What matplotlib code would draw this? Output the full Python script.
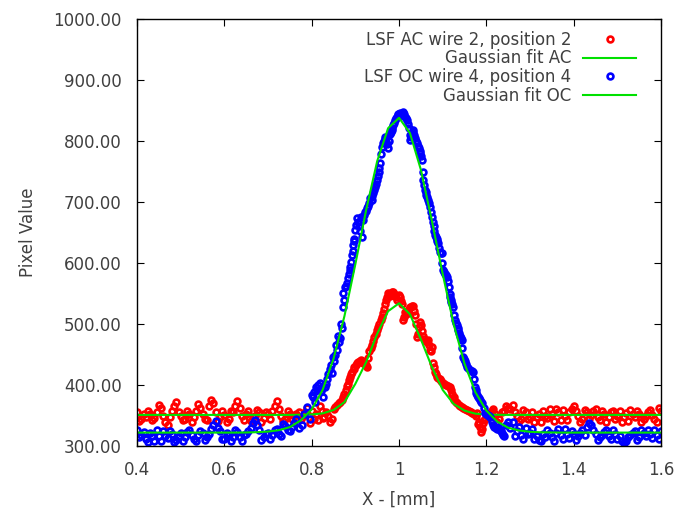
import numpy as np
import matplotlib.pyplot as plt

# LSF AC wire 2, position 2 (red points)
ac_x = [0.40, 0.41, 0.42, 0.43, 0.44, 0.45, 0.46, 0.47, 0.48, 0.49, 0.50, 0.51, 0.52, 0.53,
        0.54, 0.55, 0.56, 0.57, 0.58, 0.59, 0.60, 0.61, 0.62, 0.63, 0.64, 0.65, 0.66, 0.67,
        0.68, 0.69, 0.70, 0.71, 0.72, 0.73, 0.74, 0.75, 0.76, 0.77,
        0.78, 0.79, 0.796, 0.805, 0.81, 0.819, 0.826, 0.832, 0.842, 0.85, 0.858, 0.865,
        0.872, 0.878, 0.884, 0.888, 0.893, 0.898, 0.904, 0.91, 0.915, 0.921, 0.927, 0.932,
        0.937, 0.943, 0.95, 0.955, 0.961, 0.966, 0.971, 0.975, 0.98, 0.986, 0.991, 0.996,
        1.002, 1.006, 1.009, 1.014, 1.02, 1.026, 1.032, 1.036, 1.041, 1.045, 1.048, 1.053,
        1.058, 1.063, 1.066, 1.071, 1.075, 1.078, 1.083, 1.087, 1.093, 1.101, 1.108, 1.117,
        1.122, 1.127, 1.133, 1.14, 1.147, 1.156, 1.165, 1.172, 1.179, 1.183, 1.185, 1.187,
        1.192, 1.198, 1.204, 1.21, 1.215,
        1.22, 1.23, 1.24, 1.25, 1.26, 1.27, 1.28, 1.29, 1.30, 1.31, 1.32, 1.33, 1.34, 1.35,
        1.36, 1.37, 1.38, 1.39, 1.40, 1.41, 1.42, 1.43, 1.44, 1.45, 1.46, 1.47, 1.48, 1.49,
        1.50, 1.51, 1.52, 1.53, 1.54, 1.55, 1.56, 1.57, 1.58, 1.59, 1.60]
ac_y = [356, 344, 348, 352, 346, 367, 350, 334, 358, 372, 349, 344, 353, 347,
        369, 352, 343, 376, 355, 348, 351, 345, 356, 374, 349, 353, 341, 350,
        355, 346, 352, 357, 374, 350, 344, 353, 349, 356,
        350, 362, 338, 345, 352, 366, 346, 356, 339, 360, 368, 372,
        380, 392, 402, 413, 422, 430, 436, 440, 438, 434, 430, 455,
        466, 478, 490, 500, 512, 524, 540, 551, 546, 552, 548, 540,
        544, 532, 506, 520, 518, 528, 529, 515, 479, 495, 503, 488,
        476, 470, 474, 458, 462, 436, 422, 413, 410, 403, 400, 397,
        386, 375, 370, 366, 362, 359, 356, 352, 354, 340, 331, 323,
        338, 345, 348, 356, 360,
        352, 344, 358, 362, 367, 350, 345, 356, 348, 340, 353, 358, 346, 352,
        361, 343, 350, 356, 365, 349, 344, 355, 351, 360, 342, 352, 347, 357,
        350, 339, 354, 359, 348, 353, 344, 356, 351, 340, 358]

# more AC readings between the ones above, as (x, value)
ac_extra = [
    (0.405, 341), (0.415, 352), (0.425, 357), (0.435, 343), (0.445, 355), (0.455, 362),
    (0.465, 340), (0.475, 347), (0.485, 366), (0.495, 356), (0.505, 342), (0.515, 357),
    (0.525, 340), (0.535, 358), (0.545, 362), (0.555, 345), (0.565, 366), (0.575, 370),
    (0.585, 341), (0.595, 357), (0.605, 340), (0.615, 358), (0.625, 366), (0.635, 362),
    (0.645, 342), (0.655, 357), (0.665, 347), (0.675, 359), (0.685, 340), (0.695, 356),
    (0.705, 344), (0.715, 366), (0.725, 360), (0.735, 341), (0.745, 358), (0.755, 345),
    (0.765, 352), (0.775, 345), (0.785, 356), (0.800, 358), (0.815, 342), (0.823, 358),
    (0.829, 348), (0.837, 350), (0.846, 345), (0.854, 364), (0.862, 370), (0.869, 376),
    (0.875, 386), (0.881, 398), (0.886, 408), (0.891, 418), (0.896, 426), (0.901, 433),
    (0.907, 438), (0.913, 441), (0.918, 436), (0.924, 432), (0.930, 445), (0.935, 460),
    (0.940, 472), (0.947, 484), (0.952, 495), (0.958, 506), (0.963, 518), (0.968, 532),
    (0.973, 545), (0.978, 549), (0.983, 553), (0.988, 550), (0.994, 544), (0.999, 548),
    (1.004, 538), (1.011, 512), (1.017, 516), (1.023, 524), (1.029, 530), (1.034, 522),
    (1.039, 500), (1.043, 484), (1.050, 498), (1.056, 480), (1.061, 472), (1.068, 466),
    (1.073, 455), (1.080, 430), (1.085, 418), (1.090, 411), (1.097, 406), (1.104, 401),
    (1.112, 398), (1.119, 392), (1.125, 380), (1.130, 372), (1.137, 368), (1.144, 364),
    (1.151, 360), (1.160, 357), (1.168, 354), (1.176, 350), (1.181, 336), (1.189, 328),
    (1.195, 342), (1.201, 350), (1.207, 352), (1.212, 358), (1.218, 347),
    (1.225, 340), (1.235, 355), (1.245, 366), (1.255, 360), (1.265, 356), (1.275, 341),
    (1.285, 359), (1.295, 344), (1.305, 356), (1.315, 348), (1.325, 340), (1.335, 350),
    (1.345, 360), (1.355, 341), (1.365, 355), (1.375, 359), (1.385, 342), (1.395, 360),
    (1.405, 358), (1.415, 340), (1.425, 359), (1.435, 344), (1.445, 357), (1.455, 348),
    (1.465, 358), (1.475, 340), (1.485, 355), (1.495, 345), (1.505, 358), (1.515, 347),
    (1.525, 341), (1.535, 352), (1.545, 358), (1.555, 340), (1.565, 350), (1.575, 359),
    (1.585, 345), (1.595, 362)]

# LSF OC wire 4, position 4 (blue points)
oc_x = [0.40, 0.41, 0.42, 0.43, 0.44, 0.45, 0.46, 0.47, 0.48, 0.49, 0.50, 0.51, 0.52, 0.53,
        0.54, 0.55, 0.56, 0.57, 0.58, 0.59, 0.60, 0.61, 0.62, 0.63, 0.64, 0.65, 0.66, 0.67,
        0.68, 0.69, 0.70, 0.71, 0.72, 0.73, 0.74, 0.75, 0.76, 0.77,
        0.778, 0.783, 0.789, 0.795, 0.801, 0.804, 0.808, 0.811, 0.815, 0.819, 0.822, 0.826,
        0.83, 0.836, 0.841, 0.846, 0.849, 0.853, 0.857, 0.86, 0.865, 0.869, 0.871, 0.872,
        0.876, 0.881, 0.885, 0.888, 0.892, 0.895, 0.898, 0.9, 0.903, 0.908, 0.915, 0.918,
        0.922, 0.926, 0.931, 0.937, 0.941, 0.945, 0.949, 0.953, 0.957, 0.961, 0.965, 0.968,
        0.972, 0.975, 0.979, 0.983, 0.987, 0.991, 0.995, 0.998, 1.002, 1.006, 1.009, 1.013,
        1.018, 1.022, 1.025, 1.029, 1.032, 1.037, 1.041, 1.045, 1.048, 1.052, 1.055, 1.059,
        1.062, 1.066, 1.071, 1.075, 1.079, 1.082, 1.086, 1.089, 1.094, 1.098, 1.1, 1.105,
        1.11, 1.114, 1.117, 1.12, 1.124, 1.128, 1.132, 1.135, 1.14, 1.144, 1.146, 1.15,
        1.156, 1.162, 1.169, 1.174, 1.177, 1.181, 1.185, 1.19, 1.197, 1.203, 1.208, 1.215,
        1.222, 1.227, 1.231, 1.236, 1.238,
        1.25, 1.26, 1.27, 1.28, 1.29, 1.30, 1.31, 1.32, 1.33, 1.34, 1.35, 1.36, 1.37, 1.38,
        1.39, 1.40, 1.41, 1.42, 1.43, 1.44, 1.45, 1.46, 1.47, 1.48, 1.49, 1.50, 1.51, 1.52,
        1.53, 1.54, 1.55, 1.56, 1.57, 1.58, 1.59, 1.60]
oc_y = [326, 318, 312, 322, 309, 316, 324, 313, 319, 310, 321, 315, 326, 312,
        318, 322, 314, 328, 341, 324, 311, 318, 315, 323, 309, 320, 330, 343,
        326, 314, 322, 318, 328, 316, 333, 324, 338, 330,
        334, 352, 364, 345, 384, 380, 372, 397, 400, 403, 390, 381,
        397, 410, 426, 420, 446, 450, 457, 480, 477, 493, 528, 551,
        560, 567, 582, 594, 613, 630, 640, 654, 674, 660, 643, 670,
        684, 690, 698, 703, 715, 725, 736, 749, 764, 790, 800, 807,
        795, 788, 812, 818, 826, 834, 840, 844, 846, 842, 848, 840,
        834, 822, 802, 812, 818, 805, 797, 788, 780, 769, 736, 720,
        712, 703, 692, 675, 660, 646, 640, 633, 618, 616, 589, 582,
        577, 560, 544, 536, 528, 506, 498, 490, 480, 474, 446, 440,
        430, 425, 421, 397, 387, 380, 375, 370, 354, 351, 348, 334,
        330, 331, 326, 321, 318,
        340, 339, 325, 318, 330, 322, 312, 310, 320, 327, 315, 322, 318, 328,
        313, 320, 316, 326, 332, 335, 319, 314, 323, 317, 326, 312, 309, 308,
        318, 324, 315, 321, 327, 313, 318, 324]

# more OC readings between the ones above, as (x, value)
oc_extra = [
    (0.405, 315), (0.415, 323), (0.425, 307), (0.435, 316), (0.445, 326), (0.455, 308),
    (0.465, 317), (0.475, 325), (0.485, 307), (0.495, 317), (0.505, 309), (0.515, 323),
    (0.525, 318), (0.535, 308), (0.545, 325), (0.555, 310), (0.565, 320), (0.575, 335),
    (0.585, 330), (0.595, 312), (0.605, 322), (0.615, 308), (0.625, 326), (0.635, 314),
    (0.645, 318), (0.655, 325), (0.665, 338), (0.675, 334), (0.685, 310), (0.695, 320),
    (0.705, 312), (0.715, 327), (0.725, 320), (0.735, 336), (0.745, 326), (0.755, 332),
    (0.765, 344), (0.806, 388), (0.813, 392), (0.824, 395), (0.833, 402), (0.838, 418),
    (0.844, 432), (0.851, 440), (0.855, 466), (0.862, 470), (0.867, 500), (0.874, 540),
    (0.879, 562), (0.883, 575), (0.887, 588), (0.890, 602), (0.894, 620), (0.897, 636),
    (0.901, 662), (0.906, 668), (0.911, 652), (0.913, 676), (0.920, 678), (0.924, 686),
    (0.929, 694), (0.934, 706), (0.939, 710), (0.943, 720), (0.947, 730), (0.951, 742),
    (0.955, 756), (0.959, 778), (0.963, 796), (0.967, 804), (0.970, 798), (0.977, 800),
    (0.981, 815), (0.985, 822), (0.989, 830), (0.993, 838), (0.997, 843), (1.000, 845),
    (1.004, 843), (1.008, 846), (1.011, 844), (1.016, 838), (1.020, 828), (1.024, 810),
    (1.027, 806), (1.031, 815), (1.035, 810), (1.039, 800), (1.043, 792), (1.047, 784),
    (1.050, 775), (1.054, 750), (1.057, 728), (1.061, 716), (1.064, 708), (1.068, 698),
    (1.073, 684), (1.077, 668), (1.081, 652), (1.084, 643), (1.088, 636), (1.092, 624),
    (1.096, 617), (1.099, 600), (1.103, 585), (1.108, 580), (1.112, 570), (1.116, 550),
    (1.119, 540), (1.122, 532), (1.126, 515), (1.130, 502), (1.134, 494), (1.137, 485),
    (1.142, 477), (1.145, 460), (1.148, 443), (1.153, 435), (1.159, 428), (1.166, 423),
    (1.172, 410), (1.176, 392), (1.179, 384), (1.183, 378), (1.188, 372), (1.194, 362),
    (1.200, 352), (1.206, 350), (1.212, 340), (1.218, 332), (1.225, 328), (1.233, 324),
    (1.241, 316), (1.245, 334), (1.255, 330), (1.265, 316), (1.275, 332), (1.285, 312),
    (1.295, 320), (1.305, 328), (1.315, 316), (1.325, 309), (1.335, 314), (1.345, 322),
    (1.355, 309), (1.365, 328), (1.375, 311), (1.385, 320), (1.395, 325), (1.405, 310),
    (1.415, 322), (1.425, 318), (1.435, 337), (1.445, 326), (1.455, 310), (1.465, 318),
    (1.475, 327), (1.485, 311), (1.495, 320), (1.505, 316), (1.515, 305), (1.525, 314),
    (1.535, 322), (1.545, 310), (1.555, 327), (1.565, 316), (1.575, 320), (1.585, 326),
    (1.595, 311)]

fit_x = [0.400, 0.425, 0.450, 0.475, 0.500, 0.525, 0.550, 0.575, 0.600, 0.625, 0.650, 0.675,
         0.700, 0.725, 0.750, 0.775, 0.800, 0.825, 0.850, 0.875, 0.900, 0.925, 0.950, 0.975,
         1.000, 1.025, 1.050, 1.075, 1.100, 1.125, 1.150, 1.175, 1.200, 1.225, 1.250, 1.275,
         1.300, 1.325, 1.350, 1.375, 1.400, 1.425, 1.450, 1.475, 1.500, 1.525, 1.550, 1.575,
         1.600]
fit_ac = [351, 351, 351, 351, 351, 351, 351, 351, 351, 351, 351, 351,
          351, 351, 351, 351.3, 351.7, 353.5, 359, 372, 402, 438, 484, 521,
          534, 516, 475, 430, 392, 369, 358, 353, 351.6, 351.2, 351, 351,
          351, 351, 351, 351, 351, 351, 351, 351, 351, 351, 351, 351,
          351]
fit_oc = [322, 322, 322, 322, 322, 322, 322, 322, 322, 322, 322.2, 322.7,
          323.7, 326, 331, 342, 360, 392, 443, 513, 598, 688, 767, 821,
          838, 813, 753, 670, 582, 500, 435, 388, 358, 340, 330, 325.5,
          323.3, 322.5, 322.2, 322, 322, 322, 322, 322, 322, 322, 322, 322,
          322]

plt.rcParams['font.family'] = 'DejaVu Sans'
txt = '#404040'
green = '#00e000'

ac_all_x = list(ac_x) + [p[0] for p in ac_extra]
ac_all_y = list(ac_y) + [p[1] for p in ac_extra]
oc_all_x = list(oc_x) + [p[0] for p in oc_extra]
oc_all_y = list(oc_y) + [p[1] for p in oc_extra]

fig = plt.figure(figsize=(6.77, 5.08), dpi=100)
ax = fig.add_axes([0.2024, 0.122, 0.774, 0.8406])

pt = dict(ls='none', marker='o', ms=4.2, mfc='none', mew=1.9)
ax.plot(ac_all_x, ac_all_y, mec='#ff0000', label='LSF AC wire 2, position 2', **pt)
ax.plot(fit_x, fit_ac, '-', color=green, lw=1.5, label='Gaussian fit AC')
ax.plot(oc_all_x, oc_all_y, mec='#0000ff', label='LSF OC wire 4, position 4', **pt)
ax.plot(fit_x, fit_oc, '-', color=green, lw=1.5, label='Gaussian fit OC')

ax.set_xlim(0.4, 1.6)
ax.set_ylim(300, 1000)
ax.set_xticks(np.arange(0.4, 1.61, 0.2))
ax.set_xticklabels(['0.4', '0.6', '0.8', '1', '1.2', '1.4', '1.6'])
ax.set_yticks(np.arange(300, 1001, 100))
ax.set_yticklabels(['%.2f' % v for v in np.arange(300, 1001, 100)])
ax.tick_params(direction='in', length=5, width=0.8, top=True, right=True,
               labelsize=12, labelcolor=txt, pad=11)
for s in ax.spines.values():
    s.set_linewidth(1.0)
    s.set_zorder(5)

ax.set_xlabel('X - [mm]', fontsize=12, color=txt, labelpad=8)
ax.set_ylabel('Pixel Value', fontsize=12, color=txt, labelpad=12)

leg = ax.legend(loc='upper right', bbox_to_anchor=(0.975, 1.0), frameon=False,
                markerfirst=False, fontsize=12, handlelength=3.2, handletextpad=0.7,
                labelspacing=0.05, borderaxespad=0.3, numpoints=1)
for t in leg.get_texts():
    t.set_color(txt)
leg._legend_box.align = 'right'

fig.savefig('out.png', dpi=100)
